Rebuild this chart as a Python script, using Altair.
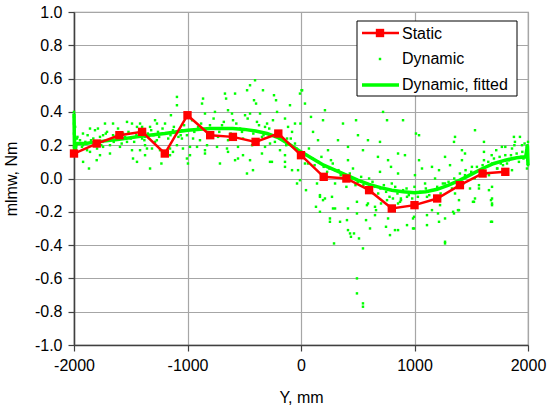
import altair as alt
import pandas as pd

# Static series
static_x = [-2000, -1800, -1600, -1400, -1200, -1000, -800, -600, -400, -200, 0,
            200, 400, 600, 800, 1000, 1200, 1400, 1600, 1800]
static_y = [0.15, 0.21, 0.26, 0.28, 0.15, 0.38, 0.26, 0.25, 0.22, 0.27, 0.14,
            0.01, 0.00, -0.07, -0.18, -0.16, -0.12, -0.04, 0.03, 0.04]

# Dynamic, fitted curve
fit_x = [-2000, -1995, -1980, -1900, -1800, -1600, -1400, -1200, -1000, -800, -600,
         -500, -400, -300, -200, -100, 0, 100, 200, 300, 400, 500, 600, 700, 800,
         900, 1000, 1100, 1200, 1300, 1400, 1500, 1600, 1700, 1800, 1900, 1980, 1995, 2000]
fit_y = [0.39, 0.14, 0.21, 0.21, 0.22, 0.235, 0.255, 0.27, 0.29, 0.30, 0.30,
         0.295, 0.285, 0.27, 0.245, 0.205, 0.16, 0.12, 0.08, 0.05, 0.02, -0.01, -0.035, -0.055, -0.07,
         -0.08, -0.085, -0.08, -0.065, -0.04, -0.01, 0.025, 0.06, 0.09, 0.11, 0.125, 0.13, 0.2, 0.08]

# Dynamic scatter
dyn_x = [
    -2000, -2000, -2000, -1995, -1995, -1995, -1995, -2000, -2000, -2000, -1990, -1990,
    -1974, -1947, -1921, -1885, -1859, -1868, -1815, -1789, -1744, -1709, -1727, -1656,
    -1612, -1533, -1489, -1418, -1445, -1400, -1330, -1286, -1269, -1198, -1146, -1093,
    -1093, -1683, -1744, -1797, -1683, -1771, -1489, -1480, -1445, -1418, -1374, -1313,
    -1357, -1286, -1374, -1533, -1595, -1154, -1128, -1093, -1049, -1040, -1005, -1154,
    -1859, -1921, -1771, -1656, -1568, -1374, -1260, -1128, -1049, -1824, -1595, -1242,
    -1950, -1900, -1850, -1800, -1750, -1700, -1650, -1620, -1550, -1500, -1450, -1400,
    -1350, -1300, -1250, -1200, -1150, -1100, -1060, -1920, -1800, -1230, -1330,
    -1970, -1930, -1880, -1830, -1760, -1720, -1640, -1580, -1520, -1470, -1420, -1380,
    -1320, -1270, -1220, -1170, -1120, -1080, -1030,
    -405, -449, -475, -335, -581, -670, -660, -872, -863, -414, -396, -238, -220, -97, -9, 5,
    -423, -476, -581, -714, -846, -996, -256, -141, -26, -35, -9,
    -846, -758, -643, -608, -493, -449, -361, -299, -211, -141, -53, -5,
    -960, -907, -802, -696, -599, -537, -388, -317, -247, -114, -79,
    -1005, -951, -890, -731, -643, -511, -344, -273, -123,
    -978, -916, -828, -740, -652, -555, -431, -317, -185, -53,
    -978, -846, -511, -344, -141, -643, -10, -555, -273, -449, -141, -79,
    -940, -880, -820, -770, -720, -680, -620, -570, -520, -470, -420, -370, -330, -280, -230,
    -180, -130, -90, -40,
    10, 35, 88, 211, 194, 370, 485, 723, 758, 899, 1013, 106, 150, 326, 502, 590, 696, 855,
    238, 414, 546, 678, 767, 916, 793, 855, 696, 264, 414, 62, 300, 458,
    44, 167, 211, 273, 132, 167, 300, 414, 255, 255, 344, 405, 414, 432, 440, 467, 511, 291,
    546, 493, 493, 546, 546, 493, 573, 608, 652, 767, 749, 784, 828, 855, 934, 987, 987, 661,
    705, 855, 590, 810, 881,
    35, 141, 167, 194, 282, 493, 581, 652, 758, 872, 934, 1110, 1225, 1269, 1207, 1340, 1383,
    1515, 1683, 1683, 1683,
    1040, 1533, 1357, 1348, 1418, 1445, 1612, 1876, 1929, 1885, 1859, 1947, 1991, 1991, 1973,
    1770, 1612, 1269, 1154, 1040, 1066, 1004, 1216, 1313, 1418, 1506, 1612, 1683, 1727, 1815,
    1859, 1656, 1445, 1181, 1093, 1269, 1568, 1683,
    1110, 1154, 1216, 1269, 1269, 1348, 1392, 1392, 1524, 1533, 1674, 1683, 1674, 996, 996,
    1110, 1357, 1489, 1568, 1656,
    1995, 1995, 1995, 1995, 2000, 2000, 1990, 1985, 1970, 1960,
    1050, 1100, 1150, 1200, 1250, 1300, 1350, 1400, 1450, 1500, 1550, 1600, 1650, 1700, 1750,
    1800, 1850, 1900, 1950, 1720, 1800, 1880, 1760, 1680, 1830, 1920,
    50, 100, 150, 200, 250, 350, 450, 500, 550, 650, 700, 750, 850, 900, 950, 600, 400, 300,
    800, 1000,
    70, 120, 180, 230, 280, 330, 380, 430, 480, 530, 580, 630, 680, 730, 780, 830, 880, 930,
    980, 1030, 1130, 1230, 1330, 1430, 1530, 1630, 1730, 1780, 1860, 1940,
]
dyn_y = [
    0.40, 0.37, 0.33, 0.29, 0.25, 0.21, 0.17, 0.15, 0.19, 0.27, 0.31, 0.23,
    0.24, 0.23, 0.20, 0.17, 0.16, 0.06, 0.29, 0.30, 0.26, 0.28, 0.33, 0.33,
    0.30, 0.34, 0.33, 0.33, 0.31, 0.31, 0.31, 0.35, 0.33, 0.33, 0.38, 0.49,
    0.44, 0.20, 0.19, 0.18, 0.15, 0.14, 0.17, 0.12, 0.10, 0.17, 0.14, 0.18,
    0.18, 0.22, 0.20, 0.22, 0.24, 0.18, 0.16, 0.20, 0.24, 0.18, 0.12, 0.14,
    0.30, 0.27, 0.25, 0.26, 0.27, 0.25, 0.28, 0.29, 0.29, 0.20, 0.19, 0.17,
    0.21, 0.22, 0.23, 0.21, 0.22, 0.23, 0.22, 0.24, 0.25, 0.24, 0.26, 0.24,
    0.27, 0.26, 0.25, 0.27, 0.26, 0.27, 0.26, 0.10, 0.11, 0.09, 0.06,
    0.25, 0.19, 0.26, 0.24, 0.20, 0.27, 0.25, 0.21, 0.28, 0.22, 0.29, 0.23,
    0.29, 0.23, 0.30, 0.24, 0.31, 0.25, 0.32,
    0.59, 0.56, 0.53, 0.53, 0.51, 0.51, 0.48, 0.45, 0.48, 0.47, 0.45, 0.50, 0.47, 0.44, 0.51, 0.53,
    0.05, 0.03, 0.11, 0.09, 0.17, 0.09, 0.10, 0.10, 0.05, -0.03, -0.01,
    0.39, 0.40, 0.41, 0.39, 0.38, 0.39, 0.39, 0.33, 0.40, 0.36, 0.33, 0.33,
    0.35, 0.31, 0.32, 0.32, 0.35, 0.30, 0.34, 0.31, 0.35, 0.31, 0.28,
    0.26, 0.24, 0.23, 0.25, 0.23, 0.24, 0.25, 0.21, 0.24,
    0.19, 0.19, 0.20, 0.19, 0.18, 0.19, 0.20, 0.19, 0.17, 0.21,
    0.14, 0.15, 0.14, 0.15, 0.14, 0.16, 0.13, 0.12, 0.10, 0.11, 0.07, 0.05,
    0.28, 0.33, 0.27, 0.36, 0.28, 0.34, 0.27, 0.33, 0.28, 0.36, 0.27, 0.32, 0.26, 0.30, 0.22,
    0.27, 0.20, 0.24, 0.18,
    0.53, 0.45, 0.37, 0.41, 0.35, 0.33, 0.35, 0.40, 0.35, 0.35, 0.27, 0.28, 0.23, 0.23, 0.26, 0.23, 0.22, 0.15,
    0.17, 0.19, 0.17, 0.13, 0.11, 0.14, 0.07, 0.03, 0.04, 0.11, 0.11, 0.09, 0.05, 0.06,
    -0.07, -0.11, -0.12, -0.11, -0.17, -0.20, -0.18, -0.18, -0.24, -0.26, -0.26, -0.25, -0.31, -0.33, -0.35, -0.33, -0.36, -0.39,
    -0.42, -0.60, -0.69, -0.75, -0.77, -0.21, -0.25, -0.30, -0.22, -0.24, -0.29, -0.34, -0.31, -0.31, -0.28, -0.30, -0.24, -0.19,
    -0.15, -0.15, -0.15, -0.12, -0.13,
    0.09, -0.03, -0.10, -0.13, -0.18, -0.14, -0.16, -0.17, -0.13, -0.14, -0.11, -0.11, -0.16, -0.39, -0.21, -0.20, -0.19,
    -0.14, -0.12, -0.15, -0.26,
    0.26, 0.29, 0.25, 0.22, 0.17, 0.15, 0.22, 0.25, 0.25, 0.22, 0.18, 0.20, 0.17, 0.06, 0.13,
    0.19, 0.16, 0.13, 0.07, 0.11, 0.06, 0.02, 0.05, 0.08, 0.11, 0.07, 0.11, 0.09, 0.06, 0.09,
    0.05, 0.02, 0.02, 0.00, -0.03, -0.03, -0.04, -0.05,
    -0.22, -0.19, -0.26, -0.38, -0.24, -0.21, -0.19, -0.13, -0.14, -0.12, -0.13, -0.16, -0.26, -0.23, -0.30,
    -0.28, -0.09, -0.06, -0.06, -0.07,
    0.20, 0.17, 0.14, 0.11, 0.08, 0.22, 0.19, 0.15, 0.21, 0.12,
    -0.08, -0.06, -0.07, -0.05, -0.03, -0.02, 0.00, 0.03, 0.05, 0.04, 0.07, 0.08, 0.10, 0.12, 0.13,
    0.14, 0.14, 0.15, 0.16, 0.17, 0.19, 0.20, 0.09, 0.14, 0.11, 0.10,
    0.14, 0.12, 0.10, 0.07, 0.06, 0.02, 0.00, -0.02, -0.04, -0.05, -0.06, -0.08, -0.09, -0.07, -0.10, 0.00, -0.05, -0.03,
    -0.03, -0.05,
    0.18, 0.08, 0.13, 0.04, 0.09, 0.05, -0.01, 0.03, -0.04, 0.01, -0.07, -0.02, -0.09, -0.04, -0.11, -0.05, -0.12, -0.06,
    -0.12, -0.11, -0.10, -0.09, -0.06, -0.03, 0.00, 0.03, 0.06, 0.08, 0.12, 0.13,
]

legend_labels = ["Static", "Dynamic", "Dynamic, fitted"]
y_ticks = [-1.0, -0.8, -0.6, -0.4, -0.2, 0.0, 0.2, 0.4, 0.6, 0.8, 1.0]
x_ticks = [-2000, -1000, 0, 1000, 2000]

n = min(len(dyn_x), len(dyn_y))
df_dyn = pd.DataFrame({"x": dyn_x[:n], "y": dyn_y[:n]})
df_static = pd.DataFrame({"x": static_x, "y": static_y})
df_fit = pd.DataFrame({"x": fit_x, "y": fit_y, "o": list(range(len(fit_x)))})

FONT = "Liberation Sans"
FS = 16
RED = "#ff0000"
GREEN = "#00ff00"

xs = alt.Scale(domain=[-2000, 2000], nice=False, zero=False)
ys = alt.Scale(domain=[-1.0, 1.0], nice=False, zero=False)

x_axis = alt.Axis(values=x_ticks, title="Y, mm", grid=True, labelFontSize=FS,
                  titleFontSize=FS, titleFontWeight="normal", labelPadding=6,
                  titlePadding=16, labelFlush=False, labelOverlap=False, tickSize=6,
                  labelExpr="replace(format(datum.value, 'd'), '\u2212', '-')")
y_axis = alt.Axis(values=y_ticks, title="mlmw, Nm", grid=True, labelFontSize=FS,
                  titleFontSize=FS, titleFontWeight="normal", labelPadding=6,
                  titlePadding=15, labelFlush=False, labelOverlap=False, tickSize=6,
                  labelExpr="replace(format(datum.value, '.1f'), '\u2212', '-')")

X = alt.X("x:Q", scale=xs, axis=x_axis)
Y = alt.Y("y:Q", scale=ys, axis=y_axis)

dyn = alt.Chart(df_dyn).mark_square(size=6, color=GREEN, opacity=1).encode(x=X, y=Y)
fit = alt.Chart(df_fit).mark_line(color=GREEN, strokeWidth=3.5).encode(x=X, y=Y, order="o:Q")
st_line = alt.Chart(df_static).mark_line(color=RED, strokeWidth=2.5).encode(x=X, y=Y)
st_pts = alt.Chart(df_static).mark_square(size=70, color=RED, opacity=1).encode(x=X, y=Y)

# Legend (drawn inside the plot, top right)
one = df_static.head(1)
leg_box = alt.Chart(one).mark_rect(fill="white", stroke="black", strokeWidth=1).encode(
    x=alt.value(283), x2=alt.value(443), y=alt.value(9), y2=alt.value(84))
leg_rule1 = alt.Chart(one).mark_rule(color=RED, strokeWidth=2.5).encode(
    x=alt.value(288), x2=alt.value(325), y=alt.value(21))
leg_sq1 = alt.Chart(one).mark_square(size=70, color=RED, opacity=1).encode(
    x=alt.value(306), y=alt.value(21))
leg_sq2 = alt.Chart(one).mark_square(size=6, color=GREEN, opacity=1).encode(
    x=alt.value(306), y=alt.value(47))
leg_rule3 = alt.Chart(one).mark_rule(color=GREEN, strokeWidth=3.5).encode(
    x=alt.value(288), x2=alt.value(325), y=alt.value(73))
leg_rows = [22, 47, 73]
leg_texts = [
    alt.Chart(one).mark_text(align="left", baseline="middle", fontSize=FS,
                             font=FONT, color="black", text=lab).encode(
        x=alt.value(328), y=alt.value(yy))
    for lab, yy in zip(legend_labels, leg_rows)
]

chart = alt.layer(dyn, fit, st_line, st_pts, leg_box, leg_rule1, leg_sq1, leg_sq2, leg_rule3,
                  *leg_texts).properties(
    width=454, height=333,
    padding={"left": 74, "top": 12, "right": 21, "bottom": 69},
    autosize=alt.AutoSizeParams(type="none"),
    background="white",
).configure_view(stroke="#999999", strokeWidth=1.2).configure_axis(
    labelFont=FONT, titleFont=FONT, labelColor="black", titleColor="black",
    gridColor="#a6a6a6", gridWidth=1.2, gridOpacity=1,
    domainColor="#404040", domainWidth=1.5, tickColor="#404040", tickWidth=1.2,
)

chart.save("out.html", embed_options={"renderer": "svg", "actions": False})
